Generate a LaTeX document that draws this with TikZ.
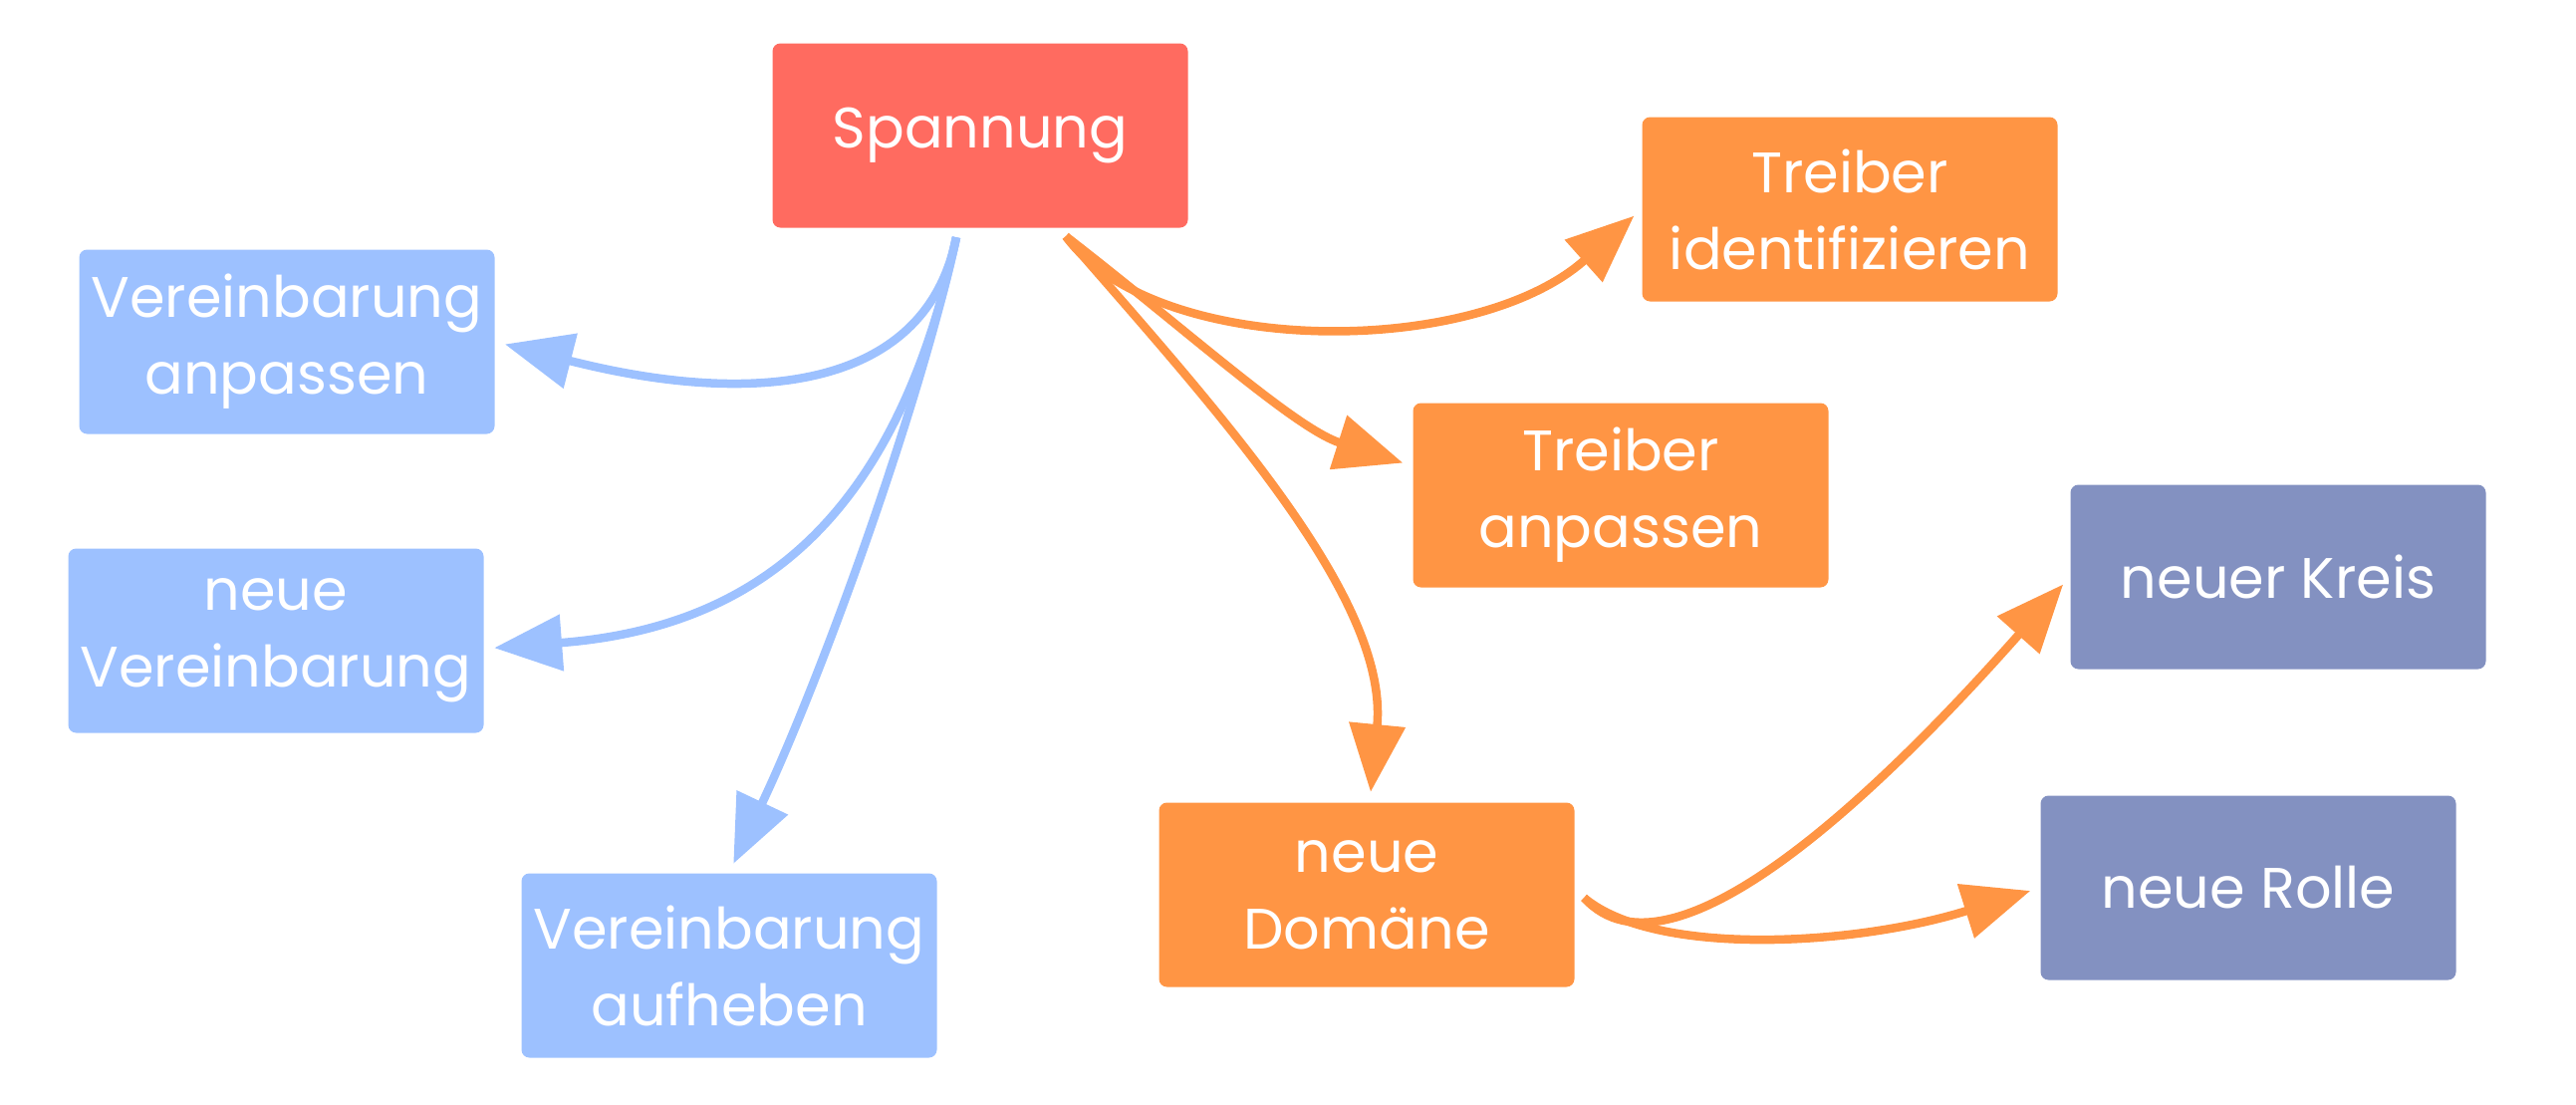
\documentclass[tikz,border=0pt]{standalone}
\usepackage{fontspec}
\setmainfont{Poppins}
\usetikzlibrary{arrows.meta}
\definecolor{spanred}{HTML}{FF6B60}
\definecolor{drvorange}{HTML}{FF9544}
\definecolor{agrblue}{HTML}{9DC1FF}
\definecolor{circpurple}{HTML}{8391C1}
\begin{document}
\begin{tikzpicture}[
    box/.style={rectangle, rounded corners=0.08cm, minimum width=4.17cm, minimum height=1.85cm,
        inner sep=0pt, align=center, text=white, font=\fontsize{16.3pt}{21.9pt}\selectfont},
    link/.style={line width=0.085cm, shorten >=0.1cm, -{Triangle[length=0.68cm, width=0.55cm]}},
    bluelink/.style={link, agrblue},
    orangelink/.style={link, drvorange}]
    \useasboundingbox (0,0) rectangle (25.86,-11.08);
    % boxes
    \foreach \name/\x/\y/\col/\txt in {span/9.84/-1.36/spanred/Spannung,
        treibid/18.57/-2.10/drvorange/{Treiber\\identifizieren},
        treibanp/16.27/-4.97/drvorange/{Treiber\\anpassen},
        domaene/13.72/-8.98/drvorange/{neue\\Domäne},
        kreis/22.87/-5.79/circpurple/neuer Kreis,
        rolle/22.57/-8.91/circpurple/neue Rolle,
        veranp/2.88/-3.43/agrblue/{Vereinbarung\\anpassen},
        neuver/2.77/-6.43/agrblue/{neue\\Vereinbarung},
        verauf/7.32/-9.69/agrblue/{Vereinbarung\\aufheben}} {
        \node[box, fill=\col] (\name) at (\x,\y) {\txt};
    }
    \coordinate (sb) at ([xshift=-0.24cm, yshift=-0.09cm]span.south);
    \coordinate (so) at ([xshift=0.86cm, yshift=-0.08cm]span.south);
    \coordinate (dr) at ([xshift=0.09cm, yshift=-0.03cm]domaene.east);
    % agreements
    \draw[bluelink] (sb) .. controls (9.3,-3.9) and (7.6,-4.1) .. (veranp.east);
    \draw[bluelink] (sb) .. controls (9.0,-5.2) and (7.6,-6.3) .. ([yshift=-0.08cm]neuver.east);
    \draw[bluelink] (sb) .. controls (9.2,-4.2) and (8.2,-6.9) .. (verauf.north);
    % drivers and domains
    \draw[orangelink] (so) .. controls (11.6,-3.6) and (14.8,-3.6) .. (treibid.west);
    \draw[orangelink] (so) .. controls (11.9,-3.3) and (13.0,-4.3) .. (treibanp.172);
    \draw[orangelink] (so) .. controls (12.2,-4.1) and (13.95,-6.0) .. ([xshift=0.03cm]domaene.north);
    \draw[orangelink] (dr) .. controls (16.8,-10.0) and (19.0,-7.8) .. (kreis.west);
    \draw[orangelink] (dr) .. controls (16.6,-9.6) and (18.6,-9.5) .. (rolle.west);
\end{tikzpicture}
\end{document}
